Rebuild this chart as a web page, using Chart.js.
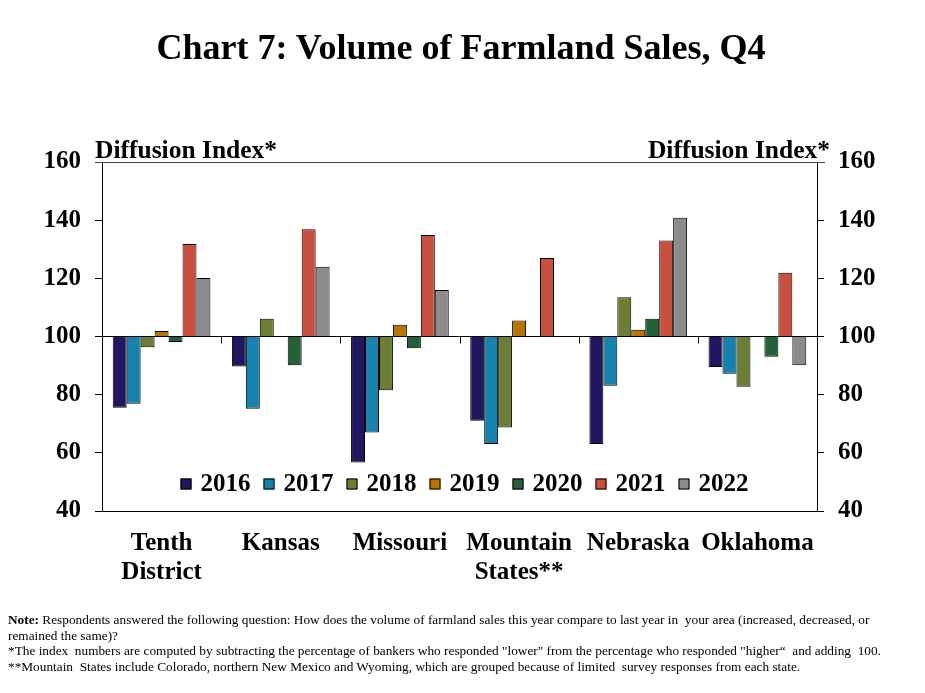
<!DOCTYPE html>
<html lang="en">
<head>
<meta charset="UTF-8">
<title>Chart 7: Volume of Farmland Sales, Q4</title>
<script src="https://cdn.jsdelivr.net/npm/chart.js"></script>
<style>
  body { margin: 0; background: #fff; font-family: "Liberation Serif", serif; }
  #wrap { position: relative; width: 925px; height: 693px; }
  #wrap canvas { position: absolute; left: 0; top: 0; }
  .title { position: absolute; left: 0; width: 922px; top: 29px; text-align: center; font-size: 36px; font-weight: bold; line-height: 36px; }
  .axis-title { position: absolute; top: 137px; font-size: 25.5px; font-weight: bold; line-height: 26px; }
  .notes { position: absolute; left: 8px; top: 612px; font-size: 13.3px; line-height: 15.5px; width: 892px; }
</style>
</head>
<body>
<div id="wrap">
  <canvas id="chart" width="925" height="693"></canvas>
  <div class="title">Chart 7: Volume of Farmland Sales, Q4</div>
  <div class="axis-title" style="left:95px">Diffusion Index*</div>
  <div class="axis-title" style="right:95px">Diffusion Index*</div>
  <div class="notes">
    <b>Note:</b> Respondents answered the following question: How does the volume of farmland sales this year compare to last year in&nbsp; your area (increased, decreased, or remained the same)?<br>
    *The index&nbsp; numbers are computed by subtracting the percentage of bankers who responded "lower" from the percentage who responded "higher“&nbsp; and adding&nbsp; 100.<br>
    **Mountain&nbsp; States include Colorado, northern New Mexico and Wyoming, which are grouped because of limited&nbsp; survey responses from each state.
  </div>
</div>

<script>
const regions = [['Tenth', 'District'], 'Kansas', 'Missouri', ['Mountain', 'States**'], 'Nebraska', 'Oklahoma'];
const years = ['2016', '2017', '2018', '2019', '2020', '2021', '2022'];
const colors = ['#221660', '#1683ae', '#6c7d35', '#b87300', '#246038', '#c94f3f', '#8c8c8c'];

const v2016 = [75.5, 89.7, 56.7, 71.0, 63.0, 89.5];
const v2017 = [76.9, 75.2, 67.0, 63.0, 83.1, 87.2];
const v2018 = [96.3, 106.1, 81.5, 68.7, 113.5, 82.7];
const v2019 = [101.9, null, 104.0, 105.5, 102.3, null];
const v2020 = [98.1, 90.1, 96.0, null, 106.1, 93.0];
const v2021 = [131.8, 136.9, 134.9, 127.0, 133.0, 121.9];
const v2022 = [120.1, 124.0, 116.0, null, 140.8, 90.1];
const series = [v2016, v2017, v2018, v2019, v2020, v2021, v2022];

const yTicks = [40, 60, 80, 100, 120, 140, 160];

const tickFont = { family: 'Liberation Serif', size: 25, weight: 'bold' };

// line at 100, category separators on it, top frame line and legend in plot
const extras = {
    id: 'extras',
    beforeDatasetsDraw(chart) {
        const ctx = chart.ctx;
        const area = chart.chartArea;
        const x = chart.scales.x;
        const y100 = chart.scales.y.getPixelForValue(100);
        ctx.save();
        ctx.strokeStyle = '#000';
        ctx.lineWidth = 1;
        ctx.beginPath();
        ctx.moveTo(area.left, y100);
        ctx.lineTo(area.right, y100);
        for (let i = 0; i < regions.length - 1; i++) {
            const bx = Math.round((x.getPixelForValue(i) + x.getPixelForValue(i + 1)) / 2) + 0.5;
            ctx.moveTo(bx, y100);
            ctx.lineTo(bx, y100 + 7);
        }
        ctx.stroke();
        ctx.strokeStyle = '#444';
        ctx.beginPath();
        ctx.moveTo(area.left - 7, area.top + 0.5);
        ctx.lineTo(area.right + 8, area.top + 0.5);
        ctx.stroke();
        ctx.restore();
    },
    afterDatasetsDraw(chart) {
        const ctx = chart.ctx;
        const area = chart.chartArea;
        ctx.save();
        ctx.font = 'bold 25px "Liberation Serif"';
        ctx.textBaseline = 'middle';
        const box = 11, gap = 9, space = 13;
        const items = chart.data.datasets.map(d => ({ label: d.label, color: d.backgroundColor, w: ctx.measureText(d.label).width }));
        const total = items.reduce((s, it) => s + box + gap + it.w + space, 0) - space;
        let cx = (area.left + area.right) / 2 + 5 - total / 2;
        const cy = area.bottom - 27;
        items.forEach(it => {
            ctx.fillStyle = it.color;
            ctx.fillRect(cx, cy - box / 2, box, box);
            ctx.strokeStyle = '#000';
            ctx.strokeRect(cx + 0.5, cy - box / 2 + 0.5, box - 1, box - 1);
            ctx.fillStyle = '#000';
            ctx.fillText(it.label, cx + box + gap, cy + 1);
            cx += box + gap + it.w + space;
        });
        ctx.restore();
    }
};

new Chart(document.getElementById('chart'), {
    type: 'bar',
    data: {
        labels: regions,
        datasets: years.map((yr, i) => ({
            label: yr,
            data: series[i],
            base: 100,
            backgroundColor: colors[i],
            borderColor: '#000',
            borderWidth: 1,
            categoryPercentage: 0.82,
            barPercentage: 1.0,
            yAxisID: 'y'
        }))
    },
    options: {
        responsive: false,
        animation: false,
        layout: { padding: { top: 162, left: 0, right: 0, bottom: 0 } },
        plugins: {
            legend: { display: false },
            tooltip: { enabled: false }
        },
        scales: {
            x: {
                grid: { display: false },
                border: { display: true, color: '#000', width: 1 },
                ticks: { color: '#000', font: { family: 'Liberation Serif', size: 25, weight: 'bold', lineHeight: 1.16 }, padding: 10, maxRotation: 0, autoSkip: false },
                afterFit(scale) { scale.height = 182; }
            },
            y: {
                position: 'left',
                min: 40, max: 160,
                afterBuildTicks(scale) { scale.ticks = yTicks.map(v => ({ value: v })); },
                grid: { drawOnChartArea: false, tickLength: 7, color: '#000' },
                border: { display: true, color: '#000', width: 1 },
                ticks: { color: '#000', font: tickFont, padding: 14 },
                afterFit(scale) { scale.width = 102; }
            },
            y2: {
                position: 'right',
                min: 40, max: 160,
                afterBuildTicks(scale) { scale.ticks = yTicks.map(v => ({ value: v })); },
                grid: { drawOnChartArea: false, tickLength: 7, color: '#000' },
                border: { display: true, color: '#000', width: 1 },
                ticks: { color: '#000', font: tickFont, padding: 14 },
                afterFit(scale) { scale.width = 108; }
            }
        }
    },
    plugins: [extras]
});
</script>
</body>
</html>
